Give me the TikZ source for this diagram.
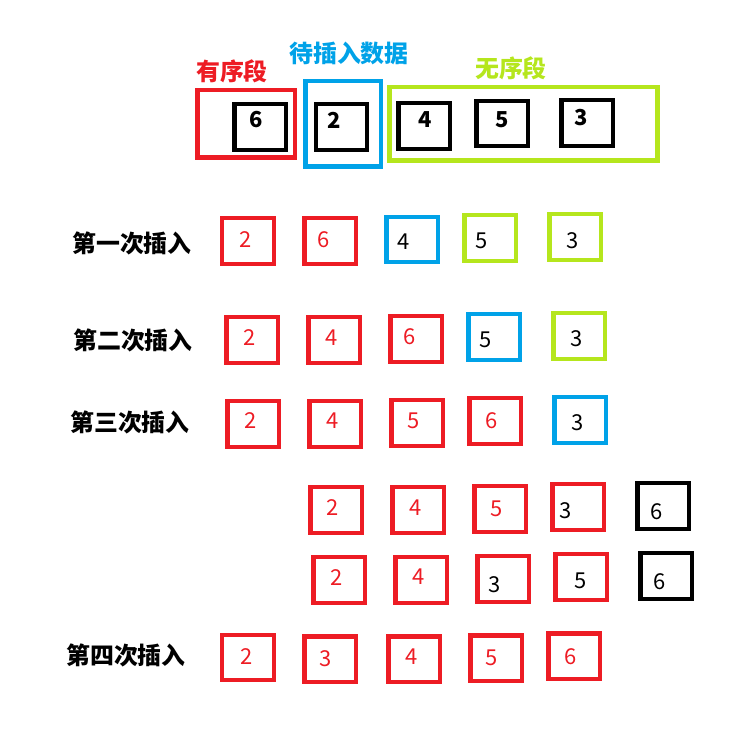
\documentclass[tikz,border=0pt]{standalone}
\usepackage{fontspec}
\setmainfont{Noto Sans CJK SC}
\definecolor{segred}{HTML}{ED1C24}
\definecolor{segblue}{HTML}{00A2E8}
\definecolor{seggreen}{HTML}{B5E61D}

\begin{document}
\begin{tikzpicture}
	  [x=0.02cm,y=-0.02cm,
	   cell/.style={draw, line width=2.55pt, minimum width=1.03cm, minimum height=0.91cm, inner sep=0pt},
	   seg/.style={draw, line width=2.55pt, inner sep=0pt},
	   num/.style={inner sep=0pt, font=\fontsize{12.5}{15}\selectfont},
	   bignum/.style={num, font=\fontsize{12.5}{15}\selectfont\bfseries},
	   title/.style={inner sep=0pt, font=\fontsize{13.6}{16}\selectfont\bfseries}]
	  \useasboundingbox (0,0) rectangle (754,756);

	  % segments of the start row
	  \node[seg, draw=segred, minimum width=1.95cm, minimum height=1.35cm] (sorted) at (246,124) {};
	  \node[seg, draw=segblue, minimum width=1.51cm, minimum height=1.71cm] (waiting) at (343,124) {};
	  \node[seg, draw=seggreen, minimum width=5.37cm, minimum height=1.47cm] (unsorted) at (523.5,124) {};
	  \node[title, text=segred] (tsorted) at (232,71) {有序段};
	  \node[title, text=segblue] (twaiting) at (349,53) {待插入数据};
	  \node[title, text=seggreen] (tunsorted) at (511,68) {无序段};

	  \foreach \n/\x/\y/\dx/\dy/\d in {s6/260/127/-4/7/6, s2/341.5/127/-7.5/7/2, s4/424/126/1/6/4,
	      s5/502/123.5/0/3.5/5, s3/587/123/-6/5/3}
	    \node[cell, label={[bignum, xshift=\dx*0.02cm, yshift=\dy*0.02cm]center:\d}] (\n) at (\x,\y) {};

	  % rows of the passes
	  \node[title] (pass1) at (132,243) {第一次插入};
	  \node[title] (pass2) at (133,340) {第二次插入};
	  \node[title] (pass3) at (130,422) {第三次插入};
	  \node[title] (pass4) at (126,655) {第四次插入};

	  \foreach \n/\x/\y/\c/\t/\dx/\dy/\d in {
	      r1a/248/241/segred/segred/-2/1/2, r1b/330/241/segred/segred/-6/1/6,
	      r1c/412/239.5/segblue/black/-8/-2.5/4, r1d/490/238/seggreen/black/-8/-3/5,
	      r1e/575/237/seggreen/black/-2/-4/3,
	      r2a/252/340/segred/segred/-2/2/2, r2b/334/340/segred/segred/-2/2/4,
	      r2c/416/339/segred/segred/-6/2/6, r2d/494/337/segblue/black/-8/-3/5,
	      r2e/579/336/seggreen/black/-2/-3/3,
	      r3a/253/424/segred/segred/-2/3/2, r3b/335/424/segred/segred/-2/3/4,
	      r3c/417/423/segred/segred/-3/2/5, r3d/495/421/segred/segred/-3/0/6,
	      r3e/580/420/segblue/black/-2/-3/3,
	      r4a/336/510/segred/segred/-3/2/2, r4b/418/510/segred/segred/-2/2/4,
	      r4c/500/509/segred/segred/-3/0/5, r4d/578/507/segred/black/-12/-4/3,
	      r4e/663/506/black/black/-6/-6/6,
	      r5a/339/580/segred/segred/-2/2/2, r5b/421/580/segred/segred/-2/3/4,
	      r5c/503/579/segred/black/-8/-6/3, r5d/581/577/segred/black/0/-4/5,
	      r5e/666/576/black/black/-6/-6/6,
	      r6a/248/657.5/segred/segred/-1/0.5/2, r6b/330/659/segred/segred/-4/0/3,
	      r6c/414/659/segred/segred/-2/2/4, r6d/496/658/segred/segred/-4/0/5,
	      r6e/574/656/segred/segred/-3/-1/6}
	    \node[cell, draw=\c, label={[num, text=\t, xshift=\dx*0.02cm, yshift=\dy*0.02cm]center:\d}] (\n) at (\x,\y) {};
	\end{tikzpicture}
\end{document}
